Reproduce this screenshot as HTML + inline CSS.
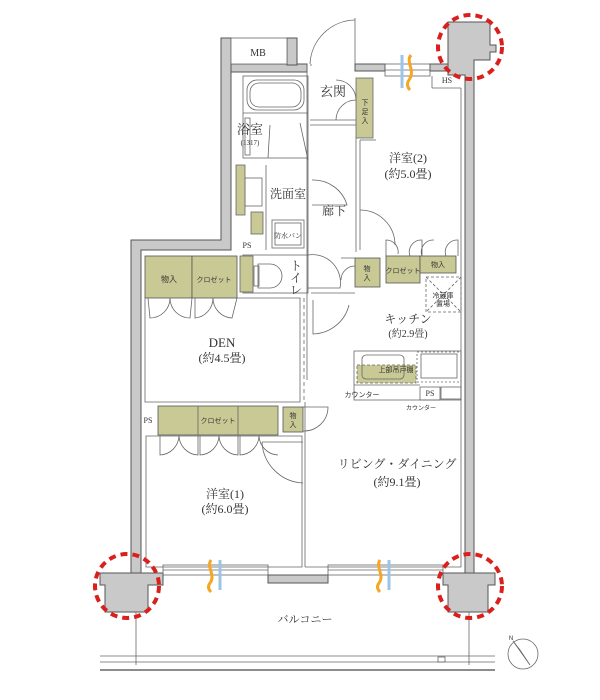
<!DOCTYPE html>
<html><head><meta charset="utf-8"><style>
html,body{margin:0;padding:0;background:#fff;}
svg{display:block;}
text{font-family:"Liberation Serif","Noto Serif CJK SC","Noto Sans CJK JP",serif;fill:#333;}
.s{font-family:"Liberation Sans","Noto Sans CJK JP",sans-serif;}
</style></head><body>
<svg width="600" height="700" viewBox="0 0 600 700" xmlns="http://www.w3.org/2000/svg">
<g fill="#c9c9c9" stroke="#555" stroke-width="1">
<!-- left outer wall -->
<path d="M131,240 H221 V38 H231 V250 H141 V578 H131 Z"/>
<!-- MB walls -->
<path d="M231,64 H307 V72 H231 Z"/>
<rect x="287" y="38" width="10" height="27"/>
<!-- top right wall -->
<rect x="355" y="64" width="30" height="7"/>
<rect x="430" y="64" width="18" height="7"/>
<!-- top right column -->
<path d="M448,22 H490 V45 H496 V52 H490 V60 H474 V575 H465 V75 H448 Z"/>
<!-- bottom columns -->
<path d="M100,573 H163 V585 H148 V612 H105 V585 H100 Z"/>
<path d="M443,573 H495 V585 H488 V612 H448 V585 H443 Z"/>
<rect x="268" y="575" width="60" height="8"/>
</g>
<g fill="none" stroke="#666" stroke-width="0.8">
<!-- MB box -->
<rect x="231" y="38" width="56" height="26" fill="#fff"/>
<!-- entry door -->
<line x1="355" y1="18" x2="355" y2="64"/>
<path d="M355,20 A46,46 0 0 0 310,64"/>
<line x1="307" y1="64" x2="307" y2="380"/>
<line x1="311" y1="64" x2="311" y2="66"/>
<!-- top window -->
<rect x="385" y="64" width="45" height="12"/>
<line x1="385" y1="70" x2="430" y2="70"/>
<!-- bathroom -->
<rect x="243" y="76" width="65" height="82"/>
<rect x="247" y="80" width="57" height="30" rx="10"/>
<rect x="250" y="83" width="51" height="24" rx="9"/>
<line x1="243" y1="113" x2="308" y2="113"/>
<rect x="245" y="118" width="5" height="37"/>
<path d="M268,158 L270,125 M300,123 L308,160"/>
<!-- washroom -->
<line x1="266" y1="165" x2="266" y2="250"/>
<rect x="245" y="178" width="17" height="28"/>
<rect x="251" y="212" width="12" height="22" fill="#c9c995"/>
<rect x="236" y="165" width="9" height="50" fill="#c9c995"/>
<rect x="272" y="220" width="32" height="28"/>
<rect x="275" y="223" width="26" height="22"/>
<line x1="308" y1="158" x2="308" y2="255"/>
<path d="M312,180 A35,35 0 0 1 347,205 L312,205"/>
<!-- hallway / room2 -->
<line x1="310" y1="120" x2="356" y2="120"/>
<line x1="310" y1="125" x2="356" y2="125"/>
<rect x="356" y="78" width="17" height="60" fill="#c9c995"/>
<path d="M336,80 A20,20 0 0 1 356,100 M336,120 A20,20 0 0 1 356,100"/>
<line x1="356" y1="138" x2="356" y2="252"/>
<line x1="360" y1="140" x2="360" y2="250"/>
<path d="M360,210 A35,35 0 0 1 395,245"/>
<line x1="360" y1="140" x2="376" y2="140"/>
<rect x="331" y="78" width="130" height="175" stroke="none"/>
<line x1="461" y1="88" x2="461" y2="400"/>
<line x1="432" y1="76" x2="432" y2="88"/>
<line x1="432" y1="88" x2="461" y2="88"/>
<!-- closets top right -->
<path d="M386,256 V240 A12,12 0 0 1 398,254 M410,256 A12,12 0 0 1 422,240 V256 M422,256 A12,12 0 0 1 434,240 M446,256 A12,12 0 0 1 458,240 V256"/>
<rect x="386" y="256" width="34" height="27" fill="#c9c995" stroke="#555"/>
<rect x="420" y="256" width="36" height="17" fill="#c9c995" stroke="#555"/>
<rect x="355" y="258" width="25" height="29" fill="#c9c995" stroke="#555"/>
<rect x="426" y="277" width="35" height="35" stroke-dasharray="3,2"/>
<line x1="426" y1="277" x2="461" y2="312" stroke-dasharray="3,2"/>
<line x1="461" y1="277" x2="426" y2="312" stroke-dasharray="3,2"/>
<path d="M355,266 A14,14 0 0 0 341,280 M341,258 L355,258"/>
<!-- toilet -->
<rect x="243" y="255" width="65" height="38"/>
<rect x="240" y="256" width="13" height="36" fill="#c9c995"/>
<path d="M258,264 H270 A12,12 0 0 1 270,288 H258 Z"/>
<rect x="254" y="266" width="5" height="20"/>
<path d="M308,255 A28,28 0 0 1 340,288 L308,288"/>
<line x1="311" y1="293" x2="355" y2="293"/>
<!-- DEN closets -->
<rect x="145" y="256" width="47" height="42" fill="#c9c995" stroke="#555"/>
<rect x="192" y="256" width="45" height="42" fill="#c9c995" stroke="#555"/>
<path d="M148,298 L150,318 A20,20 0 0 0 170,298 M170,298 A20,20 0 0 0 190,318 L192,298 M195,298 L195,318 A20,20 0 0 0 213,298 M213,298 A20,20 0 0 0 232,318 L237,298"/>
<!-- DEN room -->
<path d="M145,298 V402 H300 V298 H237"/>
<line x1="304" y1="298" x2="304" y2="400" stroke-dasharray="4,3"/>
<path d="M313,300 V334 A38,38 0 0 0 349,305"/>
<!-- lower closet -->
<rect x="158" y="406" width="120" height="29" fill="#c9c995" stroke="#555"/>
<line x1="198" y1="406" x2="198" y2="435"/><line x1="238" y1="406" x2="238" y2="435"/>
<rect x="283" y="407" width="20" height="25" fill="#c9c995" stroke="#555"/>
<path d="M303,407 H328 A24,24 0 0 1 303,431"/>
<path d="M160,436 V455 A20,20 0 0 0 179,436 A20,20 0 0 0 198,455 V436 M200,436 V455 A20,20 0 0 0 219,436 A20,20 0 0 0 238,455 V436 M240,436 V455 A20,20 0 0 0 259,436 A20,20 0 0 0 278,455"/>
<path d="M262,442 A43,43 0 0 0 303,483"/>
<line x1="262" y1="442" x2="303" y2="442"/>
<!-- room1 -->
<path d="M146,436 V567 H302 V436 Z"/>
<line x1="305" y1="402" x2="305" y2="567"/>
<path d="M305,567 H461 V400"/>
<!-- kitchen counter -->
<rect x="354" y="351" width="107" height="49"/>
<line x1="354" y1="385" x2="420" y2="385"/>
<rect x="357" y="365" width="59" height="18" fill="#c9c995" stroke-dasharray="3,2"/>
<rect x="362" y="355" width="42" height="24" rx="4"/>
<rect x="417" y="352" width="44" height="30" stroke-dasharray="2,2"/>
<rect x="421" y="354" width="36" height="24"/>
<rect x="420" y="387" width="20" height="13"/>
<rect x="441" y="387" width="20" height="12"/>
<!-- bottom windows -->
<rect x="163" y="565" width="105" height="10"/>
<rect x="328" y="565" width="115" height="10"/>
<line x1="163" y1="570" x2="268" y2="570"/><line x1="328" y1="570" x2="443" y2="570"/>
<!-- balcony -->
<line x1="136" y1="612" x2="136" y2="665"/><line x1="469" y1="612" x2="469" y2="665"/>
<line x1="100" y1="656" x2="495" y2="656"/><line x1="100" y1="662" x2="495" y2="662"/>
<line x1="100" y1="670" x2="495" y2="670" stroke-width="1.5"/>
<rect x="438" y="657" width="7" height="5"/>
<!-- compass -->
<circle cx="523" cy="654" r="15"/>
<path d="M513,641 L530,665 L520,650 Z" fill="#333"/>
</g>
<!-- heat/cool icons -->
<g stroke-width="3" fill="none">
<path d="M402,55 V88" stroke="#9cc4e8"/>
<path d="M411,55 C405,62 416,70 409,80 C406,84 408,88 410,90" stroke="#f5a623"/>
<path d="M220,560 V590" stroke="#9cc4e8"/>
<path d="M211,560 C206,567 216,575 210,583 C207,587 209,590 211,592" stroke="#f5a623"/>
<path d="M389,560 V590" stroke="#9cc4e8"/>
<path d="M380,560 C375,567 385,575 379,583 C376,587 378,590 380,592" stroke="#f5a623"/>
</g>
<!-- red dashed circles -->
<g fill="none" stroke="#d9201d" stroke-width="4" stroke-dasharray="7,5">
<circle cx="470" cy="47" r="32"/>
<circle cx="127" cy="586" r="32"/>
<circle cx="470" cy="586" r="32"/>
</g>
<!-- labels -->
<g font-size="11" text-anchor="middle">
<text x="258" y="56" font-size="10">MB</text>
<text x="333" y="96" font-size="13">玄関</text>
<text x="250" y="134" font-size="13">浴室</text>
<text x="250" y="145" font-size="7">(1317)</text>
<text x="288" y="198" font-size="12">洗面室</text>
<text x="334" y="215" font-size="12">廊下</text>
<text x="408" y="162" font-size="12">洋室(2)</text>
<text x="408" y="178" font-size="12">(約5.0畳)</text>
<text x="447" y="83" font-size="8">HS</text>
<text x="247" y="248" font-size="8">PS</text>
<text x="288" y="238" font-size="7">防水パン</text>
<text x="296" y="270" font-size="12">ト</text>
<text x="296" y="282" font-size="12">イ</text>
<text x="296" y="294" font-size="12">レ</text>
<text x="169" y="282" font-size="8" class="s">物入</text>
<text x="214" y="282" font-size="7" class="s">クロゼット</text>
<text x="367" y="271" font-size="7" class="s">物</text><text x="367" y="280" font-size="7" class="s">入</text>
<text x="403" y="273" font-size="7" class="s">クロゼット</text>
<text x="438" y="267" font-size="7" class="s">物入</text>
<text x="365" y="105" font-size="7" class="s">下</text><text x="365" y="114" font-size="7" class="s">足</text><text x="365" y="123" font-size="7" class="s">入</text>
<text x="443" y="298" font-size="7" class="s">冷蔵庫</text><text x="443" y="306" font-size="7" class="s">置場</text>
<text x="408" y="323" font-size="12">キッチン</text>
<text x="408" y="337" font-size="10">(約2.9畳)</text>
<text x="396" y="372" font-size="7" class="s">上部吊戸棚</text>
<text x="362" y="397" font-size="7" class="s">カウンター</text>
<text x="430" y="396" font-size="8">PS</text>
<text x="421" y="410" font-size="6" class="s">カウンター</text>
<text x="222" y="347" font-size="13">DEN</text>
<text x="222" y="362" font-size="12">(約4.5畳)</text>
<text x="148" y="423" font-size="8">PS</text>
<text x="218" y="423" font-size="7" class="s">クロゼット</text>
<text x="293" y="418" font-size="7" class="s">物</text><text x="293" y="427" font-size="7" class="s">入</text>
<text x="225" y="498" font-size="12">洋室(1)</text>
<text x="225" y="513" font-size="12">(約6.0畳)</text>
<text x="397" y="468" font-size="12">リビング・ダイニング</text>
<text x="397" y="486" font-size="12">(約9.1畳)</text>
<text x="305" y="623" font-size="11">バルコニー</text>
<text x="511" y="640" font-size="6" class="s">N</text>
</g>
</svg>
</body></html>
